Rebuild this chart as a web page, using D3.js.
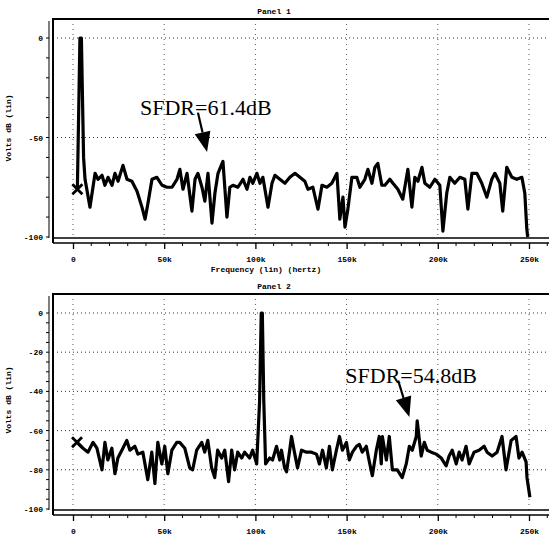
<!DOCTYPE html>
<html>
<head>
<meta charset="utf-8">
<script src="https://cdn.jsdelivr.net/npm/d3@7"></script>
<style>
  body { margin: 0; background: #fff; }
  text { font-family: "Liberation Mono", "DejaVu Sans Mono", monospace; font-weight: bold; }
</style>
</head>
<body>
<svg></svg>
<script>
var width = 549;
var height = 535;

// frequency ticks (kHz) and labels, shared by both panels
var freqTicks = [0, 50, 100, 150, 200, 250];
var freqLabels = ["0", "50k", "100k", "150k", "200k", "250k"];

// panel 1 : [freq kHz, dB]
var panel1Data = [
  [2.4,-76],[3.8,0],[4.6,0],[5.8,-60],[6.6,-71],[9.3,-85],[12.1,-68],[13.7,-71],[15.9,-69],[17.5,-74],
  [19.2,-70],[21.4,-74],[23.0,-68],[24.7,-72],[27.4,-64],[29.6,-71],[32.3,-72],[35.1,-77],[37.8,-85],[39.5,-91],
  [41.1,-83],[43.3,-71],[46.0,-70],[48.8,-74],[51.5,-75],[54.3,-75],[57.0,-71],[58.6,-66],[60.3,-76],[62.5,-68],
  [65.2,-87],[66.9,-71],[68.5,-68],[70.7,-75],[72.3,-82],[74.0,-68],[76.2,-93],[77.8,-78],[79.5,-68],[82.2,-62],
  [84.4,-90],[86.0,-75],[87.7,-74],[90.4,-75],[93.2,-71],[95.4,-76],[97.0,-70],[98.6,-73],[100.8,-68],[102.5,-73],
  [104.1,-70],[106.9,-85],[109.1,-73],[110.7,-69],[113.4,-71],[116.2,-73],[118.9,-70],[121.7,-68],[124.4,-70],[127.1,-72],
  [128.8,-76],[131.5,-75],[134.3,-86],[136.5,-74],[139.2,-75],[141.9,-73],[144.7,-68],[146.3,-91],[148.0,-80],[149.1,-95],
  [150.7,-86],[152.9,-70],[155.6,-70],[157.3,-75],[160.0,-71],[161.7,-66],[163.9,-73],[165.5,-65],[167.1,-63],[169.3,-74],
  [171.0,-74],[173.7,-71],[175.4,-73],[178.1,-76],[180.8,-81],[183.6,-66],[185.8,-85],[187.4,-70],[189.1,-72],[191.3,-65],
  [192.9,-73],[195.6,-75],[198.4,-71],[201.1,-74],[202.8,-97],[204.9,-78],[206.6,-70],[209.3,-73],[212.1,-70],[214.8,-71],
  [216.5,-86],[218.7,-68],[221.4,-68],[224.1,-73],[226.9,-80],[229.6,-71],[231.3,-68],[234.0,-73],[235.6,-87],[237.8,-65],
  [240.6,-70],[243.3,-71],[246.1,-70],[247.7,-78],[248.8,-96],[249.3,-100]
];

// panel 2 : [freq kHz, dB]
var panel2Data = [
  [2.2,-66],[5.5,-69],[8.2,-71],[11.0,-66],[13.1,-69],[15.9,-80],[17.5,-66],[19.1,-75],[21.3,-69],[23.0,-82],
  [24.6,-74],[26.8,-70],[29.5,-65],[31.2,-70],[33.9,-68],[35.6,-72],[38.3,-71],[41.0,-85],[43.2,-71],[44.9,-87],
  [46.5,-66],[48.7,-77],[50.3,-68],[52.0,-82],[54.2,-70],[56.9,-66],[58.5,-66],[61.3,-69],[64.0,-79],[65.6,-80],
  [67.8,-70],[70.6,-66],[72.2,-71],[73.9,-65],[76.0,-79],[77.7,-84],[79.3,-70],[81.5,-74],[83.2,-70],[85.3,-86],
  [87.0,-70],[88.6,-80],[90.3,-71],[92.5,-74],[94.1,-71],[96.8,-74],[98.5,-70],[100.7,-77],[102.3,-45],[103.2,0],
  [103.8,0],[104.6,-45],[105.6,-77],[107.8,-74],[109.4,-75],[111.6,-68],[113.3,-75],[114.3,-70],[116.0,-79],[117.1,-81],
  [118.8,-70],[119.8,-63],[121.4,-71],[123.1,-79],[125.3,-70],[128.0,-71],[130.7,-71],[133.5,-72],[135.1,-77],[136.8,-70],
  [138.9,-79],[140.6,-68],[142.2,-80],[144.4,-70],[146.1,-63],[147.7,-70],[149.9,-66],[151.5,-75],[153.2,-71],[155.4,-68],
  [157.0,-67],[158.6,-71],[160.8,-68],[162.5,-76],[164.1,-83],[166.3,-70],[167.9,-63],[169.0,-77],[169.6,-63],[171.8,-75],
  [173.4,-63],[175.1,-80],[177.8,-80],[180.5,-84],[182.7,-77],[184.4,-68],[186.0,-70],[188.2,-63],[188.7,-55],[190.9,-73],
  [192.6,-66],[194.2,-70],[196.4,-71],[199.1,-72],[201.9,-74],[204.6,-78],[206.2,-73],[207.9,-70],[210.1,-77],[211.7,-71],
  [213.3,-75],[215.5,-68],[217.2,-77],[219.9,-71],[222.6,-70],[225.4,-68],[227.0,-71],[229.8,-73],[232.5,-71],[235.2,-63],
  [237.4,-80],[240.2,-65],[242.9,-63],[244.5,-74],[246.2,-71],[248.4,-76],[248.9,-84],[250.5,-94]
];

var panel1YTicks = [0, -50, -100];
var panel2YTicks = [0, -20, -40, -60, -80, -100];

// annotations: text anchor, arrow start, arrow tip (freq kHz, dB)
var panel1Note = { text: "SFDR=61.4dB", at: [36.7, -38.7], from: [68.5, -37.5], to: [73.5, -57.3] };
var panel2Note = { text: "SFDR=54.8dB", at: [149.3, -35.7], from: [178.3, -34.5], to: [184.4, -53.1] };

var svg = d3.select('svg')
            .attr('width', width)
            .attr('height', height);

function drawPanel(opt) {
  var g = svg.append("g");
  var left = 53, right = 549;

  var x = d3.scaleLinear().domain([0, 250]).range([73, 529]);
  var y = d3.scaleLinear().domain([-100, 0]).range([opt.y0, opt.y1]);

  // title
  g.append("text")
   .attr("x", 274).attr("y", opt.top - 5)
   .attr("text-anchor", "middle")
   .attr("font-size", 8)
   .text(opt.title);

  // dotted grid
  g.selectAll(".hgrid")
   .data(opt.yTicks.filter(d => d > -100))
   .enter().append("line")
   .attr("x1", left).attr("x2", right)
   .attr("y1", d => y(d)).attr("y2", d => y(d))
   .attr("stroke", "#333").attr("stroke-width", 1)
   .attr("stroke-dasharray", "1,3");
  g.selectAll(".vgrid")
   .data(freqTicks)
   .enter().append("line")
   .attr("x1", d => x(d)).attr("x2", d => x(d))
   .attr("y1", opt.top).attr("y2", opt.bottom)
   .attr("stroke", "#555").attr("stroke-width", 1)
   .attr("stroke-dasharray", "1,4");

  // frame
  g.append("line").attr("x1", left).attr("x2", right)
   .attr("y1", opt.top).attr("y2", opt.top)
   .attr("stroke", "#000").attr("stroke-width", 2);
  g.append("line").attr("x1", left).attr("x2", right)
   .attr("y1", opt.bottom).attr("y2", opt.bottom)
   .attr("stroke", "#000").attr("stroke-width", 1.5);
  g.append("line").attr("x1", left).attr("x2", left)
   .attr("y1", opt.top - 1).attr("y2", opt.bottom + 5)
   .attr("stroke", "#000").attr("stroke-width", 2);
  g.append("line").attr("x1", left - 4).attr("x2", left - 4)
   .attr("y1", opt.top + 2).attr("y2", opt.bottom)
   .attr("stroke", "#000").attr("stroke-width", 1);

  // bottom axis
  var xAxis = d3.axisBottom(x)
    .tickValues(freqTicks)
    .tickFormat((d, i) => freqLabels[i])
    .tickSize(6)
    .tickPadding(7);
  var ax = g.append("g")
    .attr("transform", "translate(0," + (opt.bottom + 5) + ")")
    .call(xAxis);
  ax.select(".domain").remove();
  ax.append("line").attr("x1", left).attr("x2", right)
    .attr("y1", 0).attr("y2", 0)
    .attr("stroke", "#000").attr("stroke-width", 2);
  ax.selectAll("text").attr("font-size", 8).attr("fill", "#000")
    .style("font-family", "Liberation Mono").style("font-weight", "bold");
  ax.selectAll("line").attr("stroke-width", 1.3);
  ax.selectAll(".minor")
    .data(d3.range(0, 261, 10).filter(d => d % 50 !== 0))
    .enter().append("line")
    .attr("x1", d => x(d)).attr("x2", d => x(d))
    .attr("y1", 0).attr("y2", 3)
    .attr("stroke", "#000").attr("stroke-width", 1);

  // left axis labels + minor ticks
  g.selectAll(".ylab")
   .data(opt.yTicks)
   .enter().append("text")
   .attr("x", 43).attr("y", d => y(d) + 3)
   .attr("text-anchor", "end")
   .attr("font-size", 8)
   .text(d => d);
  g.selectAll(".yminor")
   .data(d3.range(-100, 1, opt.minorStep))
   .enter().append("line")
   .attr("x1", left - 7).attr("x2", left - 4)
   .attr("y1", d => y(d)).attr("y2", d => y(d))
   .attr("stroke", "#000").attr("stroke-width", 1);

  g.append("text")
   .attr("transform", "translate(11," + opt.labelY + ") rotate(-90)")
   .attr("text-anchor", "middle")
   .attr("font-size", 8)
   .text("Volts dB (lin)");

  if (opt.xTitle) {
    g.append("text")
     .attr("x", 266).attr("y", opt.bottom + 34)
     .attr("text-anchor", "middle")
     .attr("font-size", 8)
     .text(opt.xTitle);
  }

  // trace
  var line = d3.line().x(d => x(d[0])).y(d => y(d[1]));
  g.append("path")
   .datum(opt.data)
   .attr("d", line)
   .attr("fill", "none")
   .attr("stroke", "#000")
   .attr("stroke-width", 3.2)
   .attr("stroke-linejoin", "round");

  // start marker
  var p = opt.data[0];
  g.append("path")
   .attr("d", "M-5,-5L5,5M-5,5L5,-5")
   .attr("transform", "translate(" + x(p[0]) + "," + y(p[1]) + ")")
   .attr("stroke", "#000").attr("stroke-width", 2.8);

  // annotation
  var n = opt.note;
  g.append("text")
   .attr("x", x(n.at[0])).attr("y", y(n.at[1]))
   .style("font-family", "'Liberation Serif', 'Times New Roman', serif")
   .style("font-weight", "normal")
   .attr("font-size", 22)
   .text(n.text);
  var x0 = x(n.from[0]), y0 = y(n.from[1]), x1 = x(n.to[0]), y1 = y(n.to[1]);
  var ang = Math.atan2(y1 - y0, x1 - x0);
  var hl = 20, hw = 8;
  var bx = x1 - hl * Math.cos(ang), by = y1 - hl * Math.sin(ang);
  g.append("line")
   .attr("x1", x0).attr("y1", y0).attr("x2", bx).attr("y2", by)
   .attr("stroke", "#000").attr("stroke-width", 2.2);
  g.append("path")
   .attr("d", "M" + x1 + "," + y1 +
              "L" + (bx + hw * Math.sin(ang)) + "," + (by - hw * Math.cos(ang)) +
              "L" + (bx - hw * Math.sin(ang)) + "," + (by + hw * Math.cos(ang)) + "Z")
   .attr("fill", "#000");
}

drawPanel({ title: "Panel 1", top: 19, bottom: 238, y0: 237, y1: 38,
            yTicks: panel1YTicks, minorStep: 10, labelY: 128,
            xTitle: "Frequency (lin) (hertz)", data: panel1Data, note: panel1Note });
drawPanel({ title: "Panel 2", top: 294, bottom: 510, y0: 509, y1: 313,
            yTicks: panel2YTicks, minorStep: 5, labelY: 400,
            xTitle: null, data: panel2Data, note: panel2Note });
</script>
</body>
</html>
